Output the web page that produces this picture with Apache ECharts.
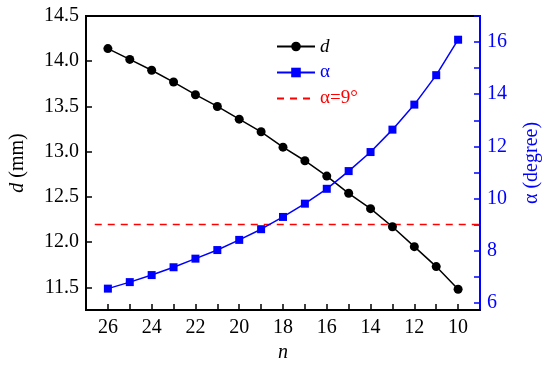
<!DOCTYPE html>
<html>
<head>
<meta charset="utf-8">
<script src="https://cdn.jsdelivr.net/npm/echarts@6/dist/echarts.min.js"></script>
<style>html,body{margin:0;padding:0;background:#fff;}#c{width:550px;height:370px;}</style>
</head>
<body>
<div id="c"></div>
<script>
var nValues = [26, 25, 24, 23, 22, 21, 20, 19, 18, 17, 16, 15, 14, 13, 12, 11, 10];
var dValues = [14.14, 14.02, 13.90, 13.77, 13.63, 13.50, 13.36, 13.22, 13.05, 12.90, 12.73, 12.54, 12.37, 12.17, 11.95, 11.73, 11.48];
var alphaValues = [6.54, 6.79, 7.06, 7.36, 7.69, 8.02, 8.41, 8.82, 9.29, 9.80, 10.37, 11.05, 11.78, 12.64, 13.60, 14.73, 16.09];
var thresholdN = [26.6, 9];
var thresholdAlpha = 9;
var xTickLabels = [26, 24, 22, 20, 18, 16, 14, 12, 10];
var xTicks = [26, 25, 24, 23, 22, 21, 20, 19, 18, 17, 16, 15, 14, 13, 12, 11, 10];
var dTickLabels = [11.5, 12.0, 12.5, 13.0, 13.5, 14.0, 14.5];
var alphaTickLabels = [6, 8, 10, 12, 14, 16];
var alphaTicks = [6, 7, 8, 9, 10, 11, 12, 13, 14, 15, 16, 17];

var FONT = 'Liberation Serif';
var chart = echarts.init(document.getElementById('c'));

function pairs(xs, ys) { return xs.map(function (x, i) { return [x, ys[i]]; }); }
function ts(color, size, extra) {
  var o = {fontFamily: FONT, fontSize: size, fontWeight: 'normal', fontStyle: 'normal', color: color};
  if (extra) { for (var k in extra) o[k] = extra[k]; }
  return o;
}
function richOf(color, size) {
  return {s: ts(color, size), i: ts(color, size, {fontStyle: 'italic'})};
}

chart.setOption({
  animation: false,
  grid: {left: 84, right: 69, top: 16, bottom: 60, show: true, borderColor: '#000', borderWidth: 2, backgroundColor: 'transparent'},
  legend: {
    orient: 'vertical', left: 271, top: 32, itemWidth: 38, itemHeight: 12, itemGap: 7,
    textStyle: ts('#000', 19),
    formatter: function (name) { return name === 'd' ? '{i|d}' : '{s|' + name + '}'; },
    data: [
      {name: 'd', textStyle: ts('#000', 19, {rich: richOf('#000', 19)})},
      {name: 'α', textStyle: ts('#0000ff', 19, {rich: richOf('#0000ff', 19)})},
      {name: 'α=9°', itemStyle: {opacity: 0}, textStyle: ts('#ff0000', 19, {rich: richOf('#ff0000', 19)})}
    ]
  },
  xAxis: {
    type: 'value', inverse: true, min: 9, max: 27,
    name: '{i|n}', nameLocation: 'middle', nameGap: 32,
    nameTextStyle: ts('#000', 20, {rich: richOf('#000', 20)}),
    axisLine: {lineStyle: {color: '#000', width: 2}},
    axisTick: {inside: true, length: 6, lineStyle: {color: '#000', width: 1.5}, customValues: xTicks},
    axisLabel: ts('#000', 20, {margin: 8, customValues: xTickLabels, rich: richOf('#000', 20),
      formatter: function (v) { return '{s|' + v + '}'; }}),
    splitLine: {show: false}
  },
  yAxis: [
    {
      type: 'value', min: 11.25, max: 14.5, position: 'left',
      name: '{i|d}{s| (mm)}', nameLocation: 'middle', nameGap: 58,
      nameTextStyle: ts('#000', 20, {rich: richOf('#000', 20)}),
      axisLine: {show: true, lineStyle: {color: '#000', width: 2}},
      axisTick: {show: true, inside: true, length: 6, lineStyle: {color: '#000', width: 1.5}, customValues: dTickLabels},
      axisLabel: ts('#000', 20, {margin: 7, customValues: dTickLabels, rich: richOf('#000', 20),
        formatter: function (v) { return '{s|' + v.toFixed(1) + '}'; }}),
      splitLine: {show: false}
    },
    {
      type: 'value', min: 5.72, max: 17, position: 'right',
      name: '{s|α (degree)}', nameLocation: 'middle', nameGap: 42,
      nameTextStyle: ts('#0000ff', 20, {rich: richOf('#0000ff', 20)}),
      axisLine: {show: true, lineStyle: {color: '#0000ff', width: 2}},
      axisTick: {show: true, inside: true, length: 6, lineStyle: {color: '#0000ff', width: 1.5}, customValues: alphaTicks},
      axisLabel: ts('#0000ff', 20, {margin: 7, customValues: alphaTickLabels, rich: richOf('#0000ff', 20),
        formatter: function (v) { return '{s|' + v + '}'; }}),
      splitLine: {show: false}
    }
  ],
  series: [
    {
      name: 'd', type: 'line', yAxisIndex: 0, data: pairs(nValues, dValues),
      symbol: 'circle', symbolSize: 9,
      lineStyle: {color: '#000', width: 1.5}, itemStyle: {color: '#000'}, z: 3
    },
    {
      name: 'α', type: 'line', yAxisIndex: 1, data: pairs(nValues, alphaValues),
      symbol: 'rect', symbolSize: 8,
      lineStyle: {color: '#0000ff', width: 1.5}, itemStyle: {color: '#0000ff'}, z: 3
    },
    {
      name: 'α=9°', type: 'line', yAxisIndex: 1,
      data: thresholdN.map(function (n) { return [n, thresholdAlpha]; }),
      symbol: 'none', lineStyle: {color: '#ff0000', width: 1.5, type: [7, 6]}, itemStyle: {color: '#ff0000'}, z: 2
    }
  ]
});
</script>
</body>
</html>
